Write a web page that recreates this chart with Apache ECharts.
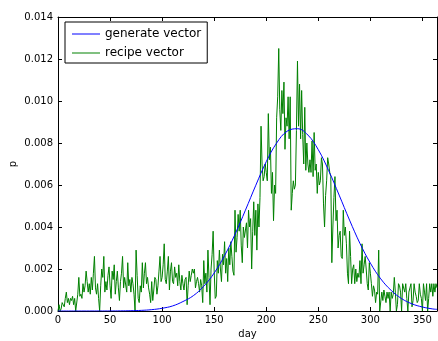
<!DOCTYPE html>
<html>
<head>
<meta charset="utf-8">
<script src="https://cdn.jsdelivr.net/npm/echarts@6/dist/echarts.min.js"></script>
<style>
    html, body {margin: 0; padding: 0; background: #fff;}
    #chart {width: 438px; height: 341px;}
</style>
</head>
<body>
<div id="chart"></div>
<script>
// x 轴刻度
var dayTicks = [0, 50, 100, 150, 200, 250, 300, 350];
// y 轴刻度
var pTicks = [0, 0.002, 0.004, 0.006, 0.008, 0.010, 0.012, 0.014];

// generate vector: 每 10 天读一个点
var genDays = [0, 10, 20, 30, 40, 50, 60, 70, 80, 90, 100, 110, 120, 130, 140, 150, 160, 170, 180,
    190, 200, 210, 220, 230, 240, 250, 260, 270, 280, 290, 300, 310, 320, 330, 340, 350, 360, 364];
var genValues = [0, 0, 0, 0, 0.000001, 0.000002, 0.000006, 0.000014, 0.00003, 0.000064, 0.00013, 0.00024,
    0.00045, 0.00073, 0.00118, 0.00181, 0.00264, 0.00365, 0.0048, 0.00599, 0.00711, 0.008, 0.00856,
    0.00868, 0.00838, 0.00768, 0.00668, 0.00552, 0.00433, 0.00322, 0.00228, 0.00153, 0.00098, 0.00059,
    0.00034, 0.00019, 0.000097, 0.00008];

// recipe vector: 第 0..364 天, 单位 1e-4
var recipeE4 = [
    0, 3, 0, 1, 4, 3, 2, 6, 9, 4,
    6, 3, 6, 5, 7, 3, 6, 0, 0, 8,
    16, 7, 8, 6, 13, 9, 12, 19, 14, 9,
    13, 8, 16, 10, 18, 26, 11, 8, 13, 6,
    0, 12, 20, 16, 26, 9, 14, 10, 17, 21,
    12, 6, 19, 15, 22, 8, 14, 19, 11, 5,
    14, 18, 26, 11, 16, 16, 9, 23, 12, 15,
    9, 16, 13, 8, 0, 29, 17, 6, 4, 12,
    9, 23, 11, 18, 23, 13, 16, 11, 8, 4,
    14, 5, 10, 16, 15, 8, 12, 19, 26, 14,
    16, 22, 32, 15, 13, 19, 26, 10, 19, 23,
    14, 13, 21, 16, 18, 12, 22, 14, 10, 17,
    13, 10, 15, 16, 3, 12, 19, 14, 17, 20,
    18, 20, 11, 14, 16, 13, 9, 15, 12, 4,
    24, 13, 18, 9, 29, 16, 3, 20, 27, 38,
    19, 6, 7, 24, 18, 29, 20, 14, 27, 22,
    33, 18, 25, 14, 30, 22, 33, 26, 19, 17,
    48, 28, 35, 46, 38, 48, 31, 23, 40, 35,
    35, 42, 30, 48, 40, 44, 20, 38, 52, 36,
    48, 29, 51, 40, 54, 88, 70, 62, 64, 70,
    66, 62, 94, 72, 78, 56, 66, 43, 60, 56,
    92, 102, 125, 96, 86, 105, 94, 109, 77, 92,
    88, 102, 82, 102, 48, 56, 62, 58, 60, 86,
    119, 88, 108, 82, 105, 84, 70, 97, 67, 80,
    70, 66, 72, 66, 81, 64, 85, 67, 70, 56,
    66, 60, 62, 73, 70, 51, 40, 55, 62, 73,
    70, 66, 64, 23, 40, 54, 64, 43, 48, 30,
    36, 38, 26, 25, 48, 36, 40, 32, 18, 13,
    38, 26, 13, 20, 22, 13, 20, 14, 18, 16,
    24, 13, 32, 18, 22, 26, 20, 13, 10, 23,
    18, 13, 7, 12, 10, 4, 9, 8, 29, 0,
    0, 9, 5, 10, 7, 4, 9, 6, 9, 0,
    9, 6, 8, 16, 9, 0, 3, 13, 12, 9,
    0, 13, 13, 9, 13, 6, 0, 9, 11, 13,
    2, 5, 13, 9, 7, 4, 5, 13, 8, 6,
    0, 13, 9, 5, 13, 0, 6, 13, 9, 13,
    7, 13, 9, 13, 11
];

var genData = genDays.map(function (d, i) { return [d, genValues[i]]; });
var recipeData = recipeE4.map(function (v, i) { return [i, v / 10000]; });

var font = 'DejaVu Sans';
var xMax = recipeE4.length - 1;

// 四边都有朝内的刻度
function xAxisCfg(pos, showLabel) {
    return {
        type: 'value', position: pos, min: 0, max: xMax, interval: 50,
        name: showLabel ? 'day' : '', nameLocation: 'middle', nameGap: 17,
        nameTextStyle: {color: '#000', fontFamily: font, fontSize: 10},
        axisLine: {show: true, onZero: false, lineStyle: {color: '#000', width: 1}},
        axisTick: {show: true, inside: true, length: 4, lineStyle: {color: '#000'}},
        axisLabel: {
            show: showLabel, color: '#000', fontFamily: font, fontSize: 10, margin: 4,
            formatter: function (v) { return dayTicks.indexOf(v) >= 0 ? String(v) : ''; }
        },
        splitLine: {show: false}
    };
}
function yAxisCfg(pos, showLabel) {
    return {
        type: 'value', position: pos, min: 0, max: 0.014, interval: 0.002,
        name: showLabel ? 'p' : '', nameLocation: 'middle', nameGap: 40, nameRotate: 90,
        nameMoveOverlap: false,
        nameTextStyle: {color: '#000', fontFamily: font, fontSize: 10},
        axisLine: {show: true, onZero: false, lineStyle: {color: '#000', width: 1}},
        axisTick: {show: true, inside: true, length: 4, lineStyle: {color: '#000'}},
        axisLabel: {
            show: showLabel, color: '#000', fontFamily: font, fontSize: 10, margin: 5,
            formatter: function (v) {
                for (var k = 0; k < pTicks.length; k++) {
                    if (Math.abs(pTicks[k] - v) < 1e-9) return v.toFixed(3);
                }
                return '';
            }
        },
        splitLine: {show: false}
    };
}

var chart = echarts.init(document.getElementById('chart'), null, {renderer: 'canvas'});
var option = {
    animation: false,
    backgroundColor: '#fff',
    grid: {left: 58, right: 1, top: 17, bottom: 30, containLabel: false, outerBoundsMode: 'none'},
    legend: {
        orient: 'vertical', left: 65, top: 22,
        padding: [6, 6, 4, 7], itemGap: 7, itemWidth: 28, itemHeight: 1,
        icon: 'rect',
        backgroundColor: '#fff', borderColor: '#000', borderWidth: 1, borderRadius: 0,
        textStyle: {color: '#000', fontFamily: font, fontSize: 12},
        data: ['generate vector', 'recipe vector']
    },
    xAxis: [xAxisCfg('bottom', true), xAxisCfg('top', false)],
    yAxis: [yAxisCfg('left', true), yAxisCfg('right', false)],
    series: [
        {
            name: 'recipe vector', type: 'line', data: recipeData,
            symbol: 'none', z: 2,
            lineStyle: {color: '#008000', width: 1},
            itemStyle: {color: '#008000'}
        },
        {
            name: 'generate vector', type: 'line', data: genData,
            symbol: 'none', smooth: 0.4, z: 3,
            lineStyle: {color: '#0000ff', width: 1},
            itemStyle: {color: '#0000ff'}
        }
    ]
};
chart.setOption(option);
</script>
</body>
</html>
